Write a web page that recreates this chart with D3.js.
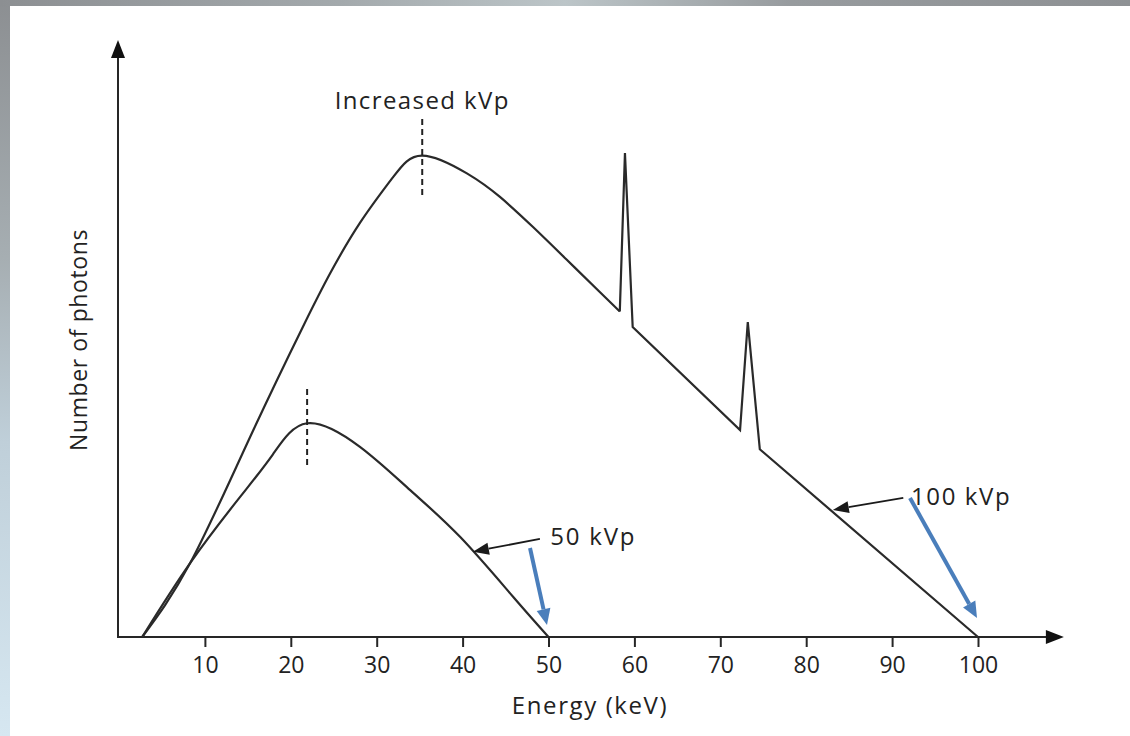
<!DOCTYPE html>
<html>
<head>
<meta charset="utf-8">
<script src="https://cdn.jsdelivr.net/npm/d3@7"></script>
<style>
body { margin: 0; background: #fff; }
svg text { font-family: "Open Sans", sans-serif; fill: #222; }
</style>
</head>
<body>
<svg id="chart" width="1130" height="736"></svg>
<script>
// values: energy in keV, photon count in relative units (peak of 100 kVp = 100)
const energy100 = [2.7, 8.3, 15.25, 21.4, 24.6, 28.05, 31.9, 35.3, 40.5, 44.35, 48.2, 52.1, 56.0, 58.3];
const counts100 = [0, 15.4, 41.5, 64.4, 75.6, 86.0, 95.5, 100, 96.3, 91.4, 85.15, 78.4, 71.6, 67.6];
// characteristic peaks and the straight tail of the 100 kVp spectrum
const energyLines = [58.3, 58.9, 59.8, 72.3, 73.2, 74.6, 100];
const countsLines = [67.6, 100.5, 64.4, 43.0, 65.4, 39.0, 0];
const energy50 = [2.7, 8.3, 14.1, 17.9, 21.9, 28.05, 33.9, 39.7, 45.9, 50];
const counts50 = [0, 15.4, 29.1, 37.9, 44.4, 39.5, 30.5, 20.8, 8.3, 0];
const xTicks = [10, 20, 30, 40, 50, 60, 70, 80, 90, 100];
// peak markers (energy, from count, to count)
const peakMarks = [[35.3, 91.8, 107.7], [21.9, 35.7, 51.7]];

const W = 1130, H = 736;
const svg = d3.select("#chart");

// backdrop: grey / blue slide border on the left and top
const defs = svg.append("defs");
const gl = defs.append("linearGradient").attr("id", "leftband")
    .attr("x1", 0).attr("y1", 0).attr("x2", 0).attr("y2", 1);
gl.append("stop").attr("offset", "0%").attr("stop-color", "#8c8f92");
gl.append("stop").attr("offset", "35%").attr("stop-color", "#a6aeb2");
gl.append("stop").attr("offset", "60%").attr("stop-color", "#bfcfd9");
gl.append("stop").attr("offset", "100%").attr("stop-color", "#d6e7f1");
const gt = defs.append("linearGradient").attr("id", "topband")
    .attr("x1", 0).attr("y1", 0).attr("x2", 1).attr("y2", 0);
gt.append("stop").attr("offset", "0%").attr("stop-color", "#8c8f92");
gt.append("stop").attr("offset", "30%").attr("stop-color", "#a3a9ac");
gt.append("stop").attr("offset", "50%").attr("stop-color", "#bcc5c8");
gt.append("stop").attr("offset", "70%").attr("stop-color", "#979b9e");
gt.append("stop").attr("offset", "100%").attr("stop-color", "#8e9194");

svg.append("rect").attr("x", 0).attr("y", 0).attr("width", 12).attr("height", H).attr("fill", "url(#leftband)");
svg.append("rect").attr("x", 0).attr("y", 0).attr("width", W).attr("height", 6).attr("fill", "url(#topband)");
svg.append("rect").attr("x", 10).attr("y", 6).attr("width", W - 10).attr("height", H - 6).attr("fill", "#fff");

const x = d3.scaleLinear().domain([0, 100]).range([119, 978]);
const y = d3.scaleLinear().domain([0, 124]).range([637, 40]);

const ink = "#262626";

// axes with arrow heads
const x0 = x(0) - 1, y0 = y(0);
const xEnd = x(110), yEnd = y(124);
svg.append("line").attr("x1", x0).attr("y1", y0).attr("x2", xEnd - 10).attr("y2", y0)
    .attr("stroke", ink).attr("stroke-width", 2);
svg.append("line").attr("x1", x0).attr("y1", y0 + 1).attr("x2", x0).attr("y2", yEnd + 10)
    .attr("stroke", ink).attr("stroke-width", 2);
svg.append("path")
    .attr("d", `M${xEnd},${y0} L${xEnd - 18},${y0 - 7} L${xEnd - 18},${y0 + 7} Z`)
    .attr("fill", "#111");
svg.append("path")
    .attr("d", `M${x0},${yEnd} L${x0 - 7},${yEnd + 18} L${x0 + 7},${yEnd + 18} Z`)
    .attr("fill", "#111");

const xAxis = svg.append("g")
    .attr("transform", `translate(0,${y0})`)
    .call(d3.axisBottom(x).tickValues(xTicks).tickSize(10).tickPadding(10));
xAxis.select(".domain").remove();
xAxis.selectAll(".tick line").attr("stroke", ink).attr("stroke-width", 2);
xAxis.selectAll(".tick text")
    .style("font-family", "'Open Sans', sans-serif")
    .style("font-size", "23px").attr("fill", "#222");

svg.append("text")
    .attr("x", 590).attr("y", 714)
    .attr("text-anchor", "middle")
    .style("font-size", "24px").style("letter-spacing", "1.6px")
    .text("Energy (keV)");

svg.append("text")
    .attr("transform", "translate(87,340) rotate(-90)")
    .attr("text-anchor", "middle")
    .style("font-size", "23px").style("letter-spacing", "0.6px")
    .text("Number of photons");

// spectra
const smooth = d3.line().x(d => x(d[0])).y(d => y(d[1])).curve(d3.curveNatural);
const straight = d3.line().x(d => x(d[0])).y(d => y(d[1]));

svg.append("path")
    .attr("d", smooth(d3.zip(energy100, counts100)))
    .attr("fill", "none").attr("stroke", "#2a2a2a").attr("stroke-width", 2.2);
svg.append("path")
    .attr("d", straight(d3.zip(energyLines, countsLines)))
    .attr("fill", "none").attr("stroke", "#2a2a2a").attr("stroke-width", 2.2)
    .attr("stroke-linejoin", "miter");
svg.append("path")
    .attr("d", smooth(d3.zip(energy50, counts50)))
    .attr("fill", "none").attr("stroke", "#2a2a2a").attr("stroke-width", 2.2);

// dashed peak markers
svg.selectAll(".peak").data(peakMarks).enter().append("line")
    .attr("class", "peak")
    .attr("x1", d => x(d[0])).attr("x2", d => x(d[0]))
    .attr("y1", d => y(d[1])).attr("y2", d => y(d[2]))
    .attr("stroke", "#222").attr("stroke-width", 2)
    .attr("stroke-dasharray", "6,4");

svg.append("text")
    .attr("x", x(35.3)).attr("y", 109)
    .attr("text-anchor", "middle")
    .style("font-size", "24px").style("letter-spacing", "1.4px")
    .text("Increased kVp");

// annotation arrows
function arrow(x1, y1, x2, y2, color, width, headLen, headW) {
    const a = Math.atan2(y2 - y1, x2 - x1);
    const bx = x2 - headLen * Math.cos(a), by = y2 - headLen * Math.sin(a);
    svg.append("line").attr("x1", x1).attr("y1", y1).attr("x2", bx).attr("y2", by)
        .attr("stroke", color).attr("stroke-width", width);
    const px = -Math.sin(a) * headW / 2, py = Math.cos(a) * headW / 2;
    svg.append("path")
        .attr("d", `M${x2},${y2} L${bx + px},${by + py} L${bx - px},${by - py} Z`)
        .attr("fill", color);
}

arrow(x(49.0), y(20.4), x(41.2), y(17.7), "#1a1a1a", 1.8, 16, 12);
arrow(x(91.3), y(28.9), x(83.1), y(26.4), "#1a1a1a", 1.8, 16, 12);
arrow(530, 548, 547, 625, "#4a7ebb", 4, 16, 14);
arrow(910, 498, 977, 618, "#4a7ebb", 4, 16, 14);

svg.append("text")
    .attr("x", x(50.2)).attr("y", 545)
    .style("font-size", "24px").style("letter-spacing", "1.8px")
    .text("50 kVp");
svg.append("text")
    .attr("x", x(92.2)).attr("y", 505)
    .style("font-size", "24px").style("letter-spacing", "1.6px")
    .text("100 kVp");
</script>
</body>
</html>
